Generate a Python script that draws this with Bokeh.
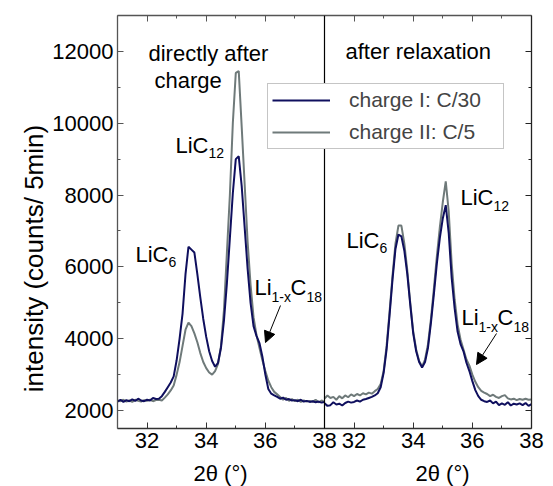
import math
from bokeh.plotting import figure
from bokeh.layouts import row, column
from bokeh.models import (Range1d, FixedTicker, LinearAxis, Span, Label, Arrow, NormalHead,
                          Legend, LegendItem, ColumnDataSource)
from bokeh.core.properties import value
from bokeh.transform import dodge
from bokeh.embed import file_html
from bokeh.resources import INLINE

# ---------------- data ----------------
two_theta = [31.0, 31.1, 31.2, 31.3, 31.4, 31.5, 31.6, 31.7, 31.8, 31.9,
             32.0, 32.1, 32.2, 32.3, 32.4, 32.5, 32.6, 32.7, 32.8, 32.9,
             33.0, 33.1, 33.2, 33.3, 33.4, 33.5, 33.6, 33.7, 33.8, 33.9,
             34.0, 34.1, 34.2, 34.3, 34.4, 34.5, 34.6, 34.7, 34.8, 34.9,
             35.0, 35.1, 35.2, 35.3, 35.4, 35.5, 35.6, 35.7, 35.8, 35.9,
             36.0, 36.1, 36.2, 36.3, 36.4, 36.5, 36.6, 36.7, 36.8, 36.9,
             37.0, 37.1, 37.2, 37.3, 37.4, 37.5, 37.6, 37.7, 37.8, 37.9, 38.0]

# directly after charge, charge I: C/30
direct_c30 = [2250, 2300, 2240, 2290, 2260, 2310, 2270, 2330, 2280, 2260,
              2300, 2280, 2350, 2320, 2330, 2400, 2520, 2650, 2780, 2950,
              3400, 4000, 4700, 5800, 6560, 6480, 6400, 5800, 5150, 4550,
              4050, 3650, 3380, 3220, 3330, 3750, 4500, 5550, 6800, 8050,
              9000, 9080, 8250, 7100, 5950, 5000, 4350, 4080, 3880, 3500,
              3000, 2600, 2470, 2420, 2380, 2330, 2360, 2300, 2320, 2280,
              2290, 2260, 2300, 2250, 2270, 2240, 2260, 2230, 2250, 2220, 2240]

# directly after charge, charge II: C/5
direct_c5 = [2280, 2260, 2300, 2250, 2280, 2240, 2300, 2270, 2250, 2290,
             2270, 2300, 2260, 2290, 2300, 2280, 2360, 2450, 2560, 2700,
             3000, 3350, 3800, 4250, 4450, 4350, 4150, 3900, 3600, 3350,
             3180, 3060, 3000, 3100, 3300, 3800, 4800, 6400, 8000, 10000,
             11400, 11450, 9900, 8300, 6700, 5500, 4600, 4100, 3750, 3400,
             3100, 2830, 2650, 2520, 2450, 2380, 2300, 2350, 2270, 2320,
             2260, 2300, 2240, 2280, 2250, 2270, 2240, 2300, 2230, 2280, 2240]

# after relaxation, charge I: C/30
relaxed_c30 = [2200, 2130, 2150, 2230, 2170, 2190, 2140, 2210, 2250, 2220,
               2240, 2280, 2250, 2300, 2320, 2350, 2380, 2420, 2480, 2650,
               3050, 3700, 4650, 5650, 6500, 6900, 6850, 6450, 5800, 4950,
               4150, 3650, 3350, 3200, 3350, 3750, 4450, 5250, 6100, 6800,
               7350, 7720, 6950, 5700, 4850, 4200, 3850, 3650, 3330, 3100,
               2820, 2570, 2400, 2300, 2260, 2240, 2280, 2200, 2250, 2150,
               2200, 2160, 2230, 2140, 2190, 2170, 2200, 2150, 2210, 2130, 2180]

# after relaxation, charge II: C/5
relaxed_c5 = [2330, 2420, 2350, 2380, 2300, 2400, 2340, 2420, 2370, 2450,
              2400, 2460, 2420, 2480, 2450, 2500, 2470, 2540, 2600, 2740,
              3100, 3800, 4750, 5750, 6650, 7150, 7150, 6650, 5900, 5000,
              4200, 3700, 3380, 3230, 3420, 3850, 4550, 5400, 6300, 7100,
              7800, 8380, 7550, 6100, 5100, 4400, 3980, 3700, 3420, 3250,
              3000, 2800, 2650, 2550, 2500, 2460, 2400, 2440, 2380, 2350,
              2400, 2430, 2340, 2310, 2330, 2290, 2320, 2300, 2330, 2300, 2310]

series_labels = ["charge I: C/30", "charge II: C/5"]
panel_titles = ["directly after", "charge", "after relaxation"]
x_title = "2θ (°)"
y_title = "intensity (counts/ 5min)"
x_tick_labels = [32, 34, 36, 38]
x_minor = [31, 33, 35, 37]
y_ticks = [2000, 4000, 6000, 8000, 10000, 12000]
y_minor = [3000, 5000, 7000, 9000, 11000]

X_MIN, X_MAX = 31.0, 38.0
PANEL_SHIFT = X_MAX - X_MIN          # right panel is drawn shifted by one panel width
Y_MIN, Y_MAX = 1500, 13000

NAVY = "#0f0f5e"
GRAY = "#6f7a7a"
FONT = "Liberation Sans"

# ---------------- layout geometry (pixels) ----------------
W, H = 553, 486
YT_W = 49            # strip holding the y title
XT_H = 26            # strip holding the x titles
FX0, FY0, FX1, FY1 = 117, 15, 531, 428   # frame of the main plot in the picture

src = ColumnDataSource(dict(two_theta=two_theta, direct_c30=direct_c30, direct_c5=direct_c5,
                            relaxed_c30=relaxed_c30, relaxed_c5=relaxed_c5))

x_range = Range1d(X_MIN, X_MAX + PANEL_SHIFT)
p = figure(width=W - YT_W, height=H - XT_H, output_backend="svg", toolbar_location=None,
           x_range=x_range, y_range=Range1d(Y_MIN, Y_MAX),
           x_axis_location=None, y_axis_location=None,
           min_border_left=FX0 - YT_W, min_border_right=W - FX1, min_border_top=FY0,
           min_border_bottom=H - XT_H - FY1)
p.outline_line_color = None
p.grid.visible = False
p.background_fill_color = "white"
p.border_fill_color = "white"

# ---------------- curves ----------------
g1 = p.line(x="two_theta", y="direct_c5", source=src, line_color=GRAY, line_width=2)
n1 = p.line(x="two_theta", y="direct_c30", source=src, line_color=NAVY, line_width=2)
g2 = p.line(x=dodge("two_theta", PANEL_SHIFT), y="relaxed_c5", source=src, line_color=GRAY, line_width=2)
n2 = p.line(x=dodge("two_theta", PANEL_SHIFT), y="relaxed_c30", source=src, line_color=NAVY, line_width=2)

# ---------------- axes ----------------
major_x = sorted(set(x_tick_labels + [t + PANEL_SHIFT for t in x_tick_labels]))
minor_x = sorted(set(x_minor + [t + PANEL_SHIFT for t in x_minor]))
overrides = {t + PANEL_SHIFT: str(t) for t in x_tick_labels}
overrides.update({t: str(t) for t in x_tick_labels})

def style_axis(ax, color, labels=True):
    ax.axis_line_color = color
    ax.axis_line_width = 1.3
    ax.major_tick_line_color = color
    ax.minor_tick_line_color = color
    ax.major_tick_in = 6
    ax.major_tick_out = 0
    ax.minor_tick_in = 3
    ax.minor_tick_out = 0
    if labels:
        ax.major_label_text_font = FONT
        ax.major_label_text_font_size = "22px"
        ax.major_label_text_color = "black"
        ax.major_label_standoff = 4
    else:
        ax.major_label_text_font_size = "1px"
        ax.major_label_text_color = None
        ax.major_label_text_alpha = 0
        ax.major_label_standoff = 0

xb = LinearAxis(ticker=FixedTicker(ticks=major_x, minor_ticks=minor_x))
xb.major_label_overrides = overrides
style_axis(xb, "#333333")
p.add_layout(xb, "below")

xt = LinearAxis(ticker=FixedTicker(ticks=major_x, minor_ticks=minor_x))
style_axis(xt, "#555555", labels=False)
p.add_layout(xt, "above")

yl = LinearAxis(ticker=FixedTicker(ticks=y_ticks, minor_ticks=y_minor))
style_axis(yl, "#555555")
p.add_layout(yl, "left")

yr = LinearAxis(ticker=FixedTicker(ticks=y_ticks, minor_ticks=y_minor))
style_axis(yr, "#222222", labels=False)
p.add_layout(yr, "right")

p.add_layout(Span(location=X_MAX, dimension="height", line_color="black", line_width=1.2))

# ---------------- annotation helpers (positions in picture pixels) ----------------
def dx(px):
    return X_MIN + (px - FX0) * (X_MAX + PANEL_SHIFT - X_MIN) / (FX1 - FX0)
def dy(py):
    return Y_MAX - (py - FY0) * (Y_MAX - Y_MIN) / (FY1 - FY0)

def txt(s, px, py, size="22px", align="left", baseline="alphabetic"):
    p.add_layout(Label(x=dx(px), y=dy(py), text=s, text_font=FONT, text_font_size=size,
                       text_color="black", text_align=align, text_baseline=baseline))

SUB = "14px"
# panel titles
txt(panel_titles[0], 148, 53)
txt(panel_titles[1], 154, 80)
txt(panel_titles[2], 345, 51)

# left panel peaks
txt("LiC", 135, 254); txt("6", 168, 261, SUB)
txt("LiC", 175, 145); txt("12", 208, 152, SUB)
txt("Li", 254, 287); txt("1-x", 271, 296, SUB); txt("C", 290, 287); txt("18", 306, 296, SUB)
# right panel peaks
txt("LiC", 346, 240); txt("6", 379, 247, SUB)
txt("LiC", 460, 197); txt("12", 493, 205, SUB)
txt("Li", 461, 317); txt("1-x", 478, 326, SUB); txt("C", 497, 317); txt("18", 513, 326, SUB)

for (x0, y0, x1, y1) in [(280, 305, 265, 342), (496, 333, 476, 364)]:
    p.add_layout(Arrow(end=NormalHead(size=11, fill_color="black", line_color="black"),
                       x_start=dx(x0), y_start=dy(y0), x_end=dx(x1), y_end=dy(y1),
                       line_color="black", line_width=1))

# ---------------- legend ----------------
legend = Legend(items=[LegendItem(label=series_labels[0], renderers=[n1]),
                       LegendItem(label=series_labels[1], renderers=[g1])],
                location=(150, 279))
legend.label_text_font = FONT
legend.label_text_font_size = "21px"
legend.glyph_width = 58
legend.glyph_height = 22
legend.label_height = 22
legend.label_width = 150
legend.label_standoff = 19
legend.spacing = 8
legend.padding = 4
legend.margin = 0
legend.border_line_color = "#8c8c8c"
legend.border_line_width = 1
legend.background_fill_color = "white"
legend.background_fill_alpha = 1.0
p.add_layout(legend)

# ---------------- x titles strip (shares the x range of the main plot) ----------------
px_t = figure(width=W - YT_W, height=XT_H, output_backend="svg", toolbar_location=None,
              x_range=x_range, y_range=Range1d(0, 1),
              x_axis_location=None, y_axis_location=None,
              min_border_left=FX0 - YT_W, min_border_right=W - FX1, min_border_top=0,
              min_border_bottom=0)
px_t.outline_line_color = None
px_t.grid.visible = False
px_t.text(x=[dx(220), dx(442)], y=[0.5, 0.5], text=[x_title, x_title],
          text_font=value(FONT), text_font_size="22px", text_color="black",
          text_align="center", text_baseline="middle")

# ---------------- y title strip ----------------
py_t = figure(width=YT_W, height=H, output_backend="svg", toolbar_location=None,
              x_range=Range1d(0, YT_W), y_range=Range1d(H, 0),
              x_axis_location=None, y_axis_location=None,
              min_border_left=0, min_border_right=0, min_border_top=0, min_border_bottom=0)
py_t.outline_line_color = None
py_t.grid.visible = False
py_t.text(x=[33], y=[258], text=[y_title], angle=math.pi / 2,
          text_font=value(FONT), text_font_size="26px", text_color="black",
          text_align="center", text_baseline="middle")

layout = row(py_t, column(p, px_t))
open("out.html", "w").write(file_html(layout, INLINE))
